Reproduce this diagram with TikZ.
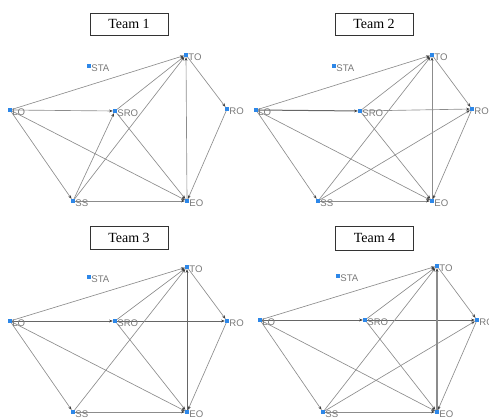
\documentclass[tikz,border=0pt]{standalone}
\usepackage{fontspec}
\setmainfont{Liberation Serif}
\newfontfamily\lblfont{Liberation Sans}
\usetikzlibrary{arrows.meta}
\definecolor{mkc}{RGB}{45,135,232}
\definecolor{edgec}{RGB}{140,140,140}
\definecolor{lblc}{RGB}{120,120,120}
\pgfdeclarelayer{bg}
\pgfsetlayers{bg,main}
\tikzset{
 mkr/.style={rectangle, fill=mkc, inner sep=0pt, minimum size=3.8pt},
 lbl/.style={font=\lblfont\fontsize{9.6}{10}\selectfont, text=lblc, inner sep=0pt, anchor=west},
 ed/.style={draw=edgec, line width=0.65pt},
 ar/.style={ed, -{Stealth[length=3.8pt,width=2.8pt,color=black!75]}},
 thk/.style={line width=1pt, draw=black!60},
 ttl/.style={draw=black!80, line width=0.8pt, minimum width=78pt, minimum height=22pt, font=\fontsize{14}{16}\selectfont, inner sep=0pt}
}
\newcommand\pnode[4]{\node[mkr] (#1) at (#2,#3) {}; \node[lbl] (#1l) at ([xshift=2.2pt,yshift=-2pt]#1.center) {#4};}
\begin{document}
\begin{tikzpicture}[x=1pt,y=-1pt]
\useasboundingbox (0,0) rectangle (489,419);
% ---------- titles
\node[ttl] (t1) at (129,24) {Team 1};
\node[ttl] (t2) at (374,24) {Team 2};
\node[ttl, minimum height=23pt] (t3) at (129,237.5) {Team 3};
\node[ttl, minimum height=24pt] (t4) at (374.5,238) {Team 4};
% ---------- panel 1
\pnode{aTO}{186}{55}{TO}
\pnode{aSTA}{89}{66}{STA}
\pnode{aLO}{10}{110}{LO}
\pnode{aSRO}{115}{111}{SRO}
\pnode{aRO}{227}{109}{RO}
\pnode{aSS}{73}{201}{SS}
\pnode{aEO}{187}{201}{EO}
% ---------- panel 2
\pnode{bTO}{432}{55}{TO}
\pnode{bSTA}{334}{66}{STA}
\pnode{bLO}{256}{110}{LO}
\pnode{bSRO}{360}{111}{SRO}
\pnode{bRO}{472}{109}{RO}
\pnode{bSS}{318}{201}{SS}
\pnode{bEO}{432}{201}{EO}
% ---------- panel 3
\pnode{cTO}{187}{267}{TO}
\pnode{cSTA}{89}{277}{STA}
\pnode{cLO}{10}{321}{LO}
\pnode{cSRO}{115}{321}{SRO}
\pnode{cRO}{227}{321}{RO}
\pnode{cSS}{73}{412}{SS}
\pnode{cEO}{187}{412}{EO}
% ---------- panel 4
\pnode{dTO}{437}{266}{TO}
\pnode{dSTA}{338}{276}{STA}
\pnode{dLO}{260}{320}{LO}
\pnode{dSRO}{365}{320}{SRO}
\pnode{dRO}{477}{320}{RO}
\pnode{dSS}{323}{412}{SS}
\pnode{dEO}{437}{412}{EO}
\begin{pgfonlayer}{bg}
% panel 1 edges
\draw[ar] (aLO) -- (aTO);
\draw[ar] (aLO) -- (aSRO);
\draw[ar] (aLO) -- (aSS);
\draw[ar] (aLO) -- (aEO);
\draw[ar] (aSRO) -- (aTO);
\draw[ar] (aSS) -- (aSRO);
\draw[ar] (aSRO) -- (aEO);
\draw[ar] (aSS) -- (aTO);
\draw[ar] (aSS) -- (aEO);
\draw[ar] (aEO) -- (aTO);
\draw[ar] (aTO) -- (aRO);
\draw[ar] (aRO) -- (aEO);
% panel 2 edges
\draw[ar] (bLO) -- (bTO);
\draw[ar,thk] (bLO) -- (bSRO);
\draw[ar] (bLO) -- (bSS);
\draw[ar] (bLO) -- (bEO);
\draw[ar] (bSRO) -- (bTO);
\draw[ar] (bSRO) -- (bRO);
\draw[ar] (bSRO) -- (bEO);
\draw[ar] (bSS) -- (bTO);
\draw[ar] (bSS) -- (bRO);
\draw[ar] (bSS) -- (bEO);
\draw[ar] (bEO) -- (bTO);
\draw[ar] (bTO) -- (bRO);
\draw[ar] (bRO) -- (bEO);
% panel 3 edges
\draw[ar] (cLO) -- (cTO);
\draw[ar,thk] (cLO) -- (cSRO);
\draw[ar] (cLO) -- (cSS);
\draw[ar] (cLO) -- (cEO);
\draw[ar] (cSRO) -- (cTO);
\draw[ar,draw=black!60] (cSRO) -- (cRO);
\draw[ar] (cSRO) -- (cEO);
\draw[ar] (cSS) -- (cTO);
\draw[ar] (cSS) -- (cEO);
\draw[ar,draw=black!60] (cEO) -- (cTO);
\draw[ar] (cTO) -- (cRO);
\draw[ar] (cRO) -- (cEO);
% panel 4 edges
\draw[ar] (dLO) -- (dTO);
\draw[ar,thk] (dLO) -- (dSRO);
\draw[ar] (dLO) -- (dSS);
\draw[ar] (dLO) -- (dEO);
\draw[ar] (dSRO) -- (dTO);
\draw[ar,draw=black!60] (dSRO) -- (dRO);
\draw[ar] (dSRO) -- (dEO);
\draw[ar] (dSS) -- (dTO);
\draw[ar] (dSS) -- (dRO);
\draw[ar] (dSS) -- (dEO);
\draw[ar,line width=1.1pt] (dEO) -- (dTO);
\draw[ar] (dTO) -- (dRO);
\draw[ar] (dRO) -- (dEO);
\end{pgfonlayer}
\end{tikzpicture}
\end{document}
